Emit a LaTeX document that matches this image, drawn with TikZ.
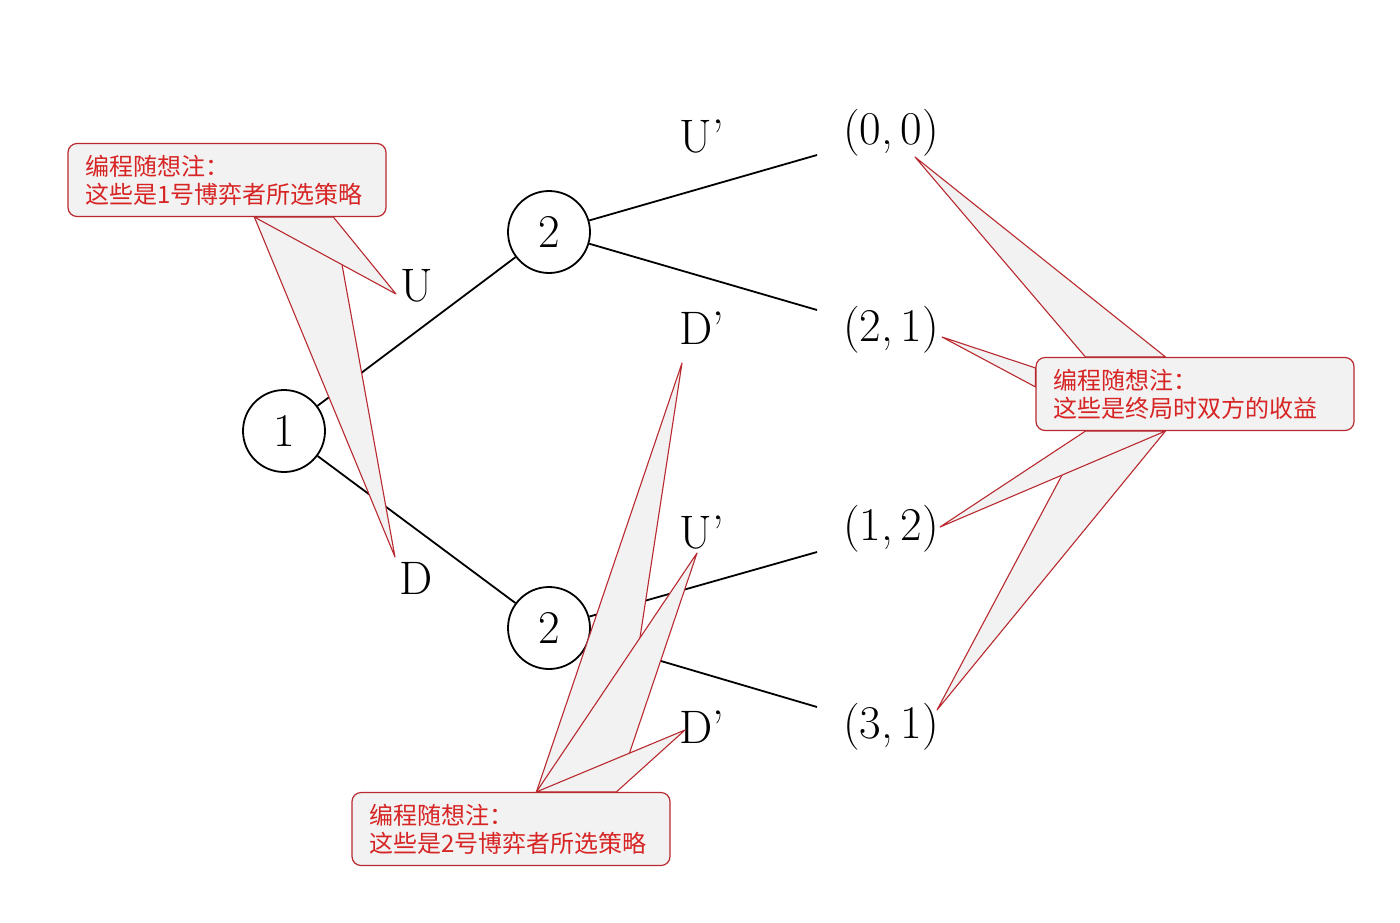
\documentclass[tikz,border=0pt]{standalone}
\usepackage{fontspec}
\newfontfamily\cjk{Noto Sans CJK SC}
\usepackage{xcolor}
\usepackage{tikz}
\usetikzlibrary{calc}
\definecolor{notered}{RGB}{185,42,48}
\definecolor{notetext}{RGB}{215,36,36}
\definecolor{notefill}{RGB}{242,242,242}
\newcommand{\treefont}{\fontsize{47}{52}\selectfont}
\newcommand{\notefont}{\cjk\fontsize{24}{28}\selectfont}
\pgfdeclarelayer{front}
\pgfsetlayers{main,front}

\begin{document}
\begin{tikzpicture}[x=1pt,y=-1pt,
    player/.style={circle,draw,line width=1.8pt,minimum size=82pt,inner sep=0pt,font=\treefont},
    move/.style={font=\treefont},
    branch/.style={line width=1.8pt},
    note/.style={draw=notered,fill=notefill,rounded corners=9pt,line width=1.2pt,
      text=notetext,font=\notefont,align=left,text width=284pt,inner xsep=17pt,
      minimum height=73pt},
    pointer/.style={draw=notered,fill=notefill,line width=1.1pt,line join=round}]
  \useasboundingbox (0,0) rectangle (1400,922);

  % game tree
  \node[player] (p1) at (284,431) {1};
  \node[player] (p2u) at (549,232) {2};
  \node[player] (p2d) at (549,628) {2};
  \draw[branch] (p1) -- (p2u);
  \draw[branch] (p1) -- (p2d);

  \coordinate (e1) at (817,155);
  \coordinate (e2) at (817,310);
  \coordinate (e3) at (817,552);
  \coordinate (e4) at (817,707);
  \draw[branch] (p2u) -- (e1);
  \draw[branch] (p2u) -- (e2);
  \draw[branch] (p2d) -- (e3);
  \draw[branch] (p2d) -- (e4);

  \node[move] (mU) at (417,286) {U};
  \node[move] (mD) at (416,578) {D};
  \node[move] (mU1) at (702,137) {U’};
  \node[move] (mD1) at (702,328) {D’};
  \node[move] (mU2) at (702,533) {U’};
  \node[move] (mD2) at (702,727) {D’};

  \node[move] (r1) at (891,133) {(0,\,0)};
  \node[move] (r2) at (891,330) {(2,\,1)};
  \node[move] (r3) at (891,529) {(1,\,2)};
  \node[move] (r4) at (891,727) {(3,\,1)};

  % notes
  \begin{pgfonlayer}{front}
    \node[note] (n1) at (227,180) {编程随想注：\\这些是1号博弈者所选策略};
    \node[note] (n2) at (511,829) {编程随想注：\\这些是2号博弈者所选策略};
    \node[note] (n3) at (1195,394) {编程随想注：\\这些是终局时双方的收益};
  \end{pgfonlayer}

  \coordinate (tU) at (396,294);
  \coordinate (tD) at (395,557);
  \filldraw[pointer] ($(n1.south west)+(187,0)$) -- (tD) -- ($(n1.south west)+(266,0)$) -- cycle;
  \filldraw[pointer] ($(n1.south west)+(187,0)$) -- (tU) -- ($(n1.south west)+(266,0)$) -- cycle;

  \coordinate (tD1) at (682,363);
  \coordinate (tU2) at (697,553);
  \coordinate (tD2) at (685,730);
  \filldraw[pointer] ($(n2.north west)+(185,0)$) -- (tD1) -- ($(n2.north west)+(265,0)$) -- cycle;
  \filldraw[pointer] ($(n2.north west)+(185,0)$) -- (tU2) -- ($(n2.north west)+(265,0)$) -- cycle;
  \filldraw[pointer] ($(n2.north west)+(185,0)$) -- (tD2) -- ($(n2.north west)+(265,0)$) -- cycle;

  \coordinate (t1) at (915,157);
  \coordinate (t2) at (942,337);
  \coordinate (t3) at (940,527);
  \coordinate (t4) at (937,710);
  \filldraw[pointer] ($(n3.north west)+(50,0)$) -- (t1) -- ($(n3.north west)+(130,0)$) -- cycle;
  \filldraw[pointer] ($(n3.north west)+(0,11)$) -- (t2) -- ($(n3.north west)+(0,30)$) -- cycle;
  \filldraw[pointer] ($(n3.south west)+(50,0)$) -- (t4) -- ($(n3.south west)+(130,0)$) -- cycle;
  \filldraw[pointer] ($(n3.south west)+(50,0)$) -- (t3) -- ($(n3.south west)+(130,0)$) -- cycle;
\end{tikzpicture}
\end{document}
